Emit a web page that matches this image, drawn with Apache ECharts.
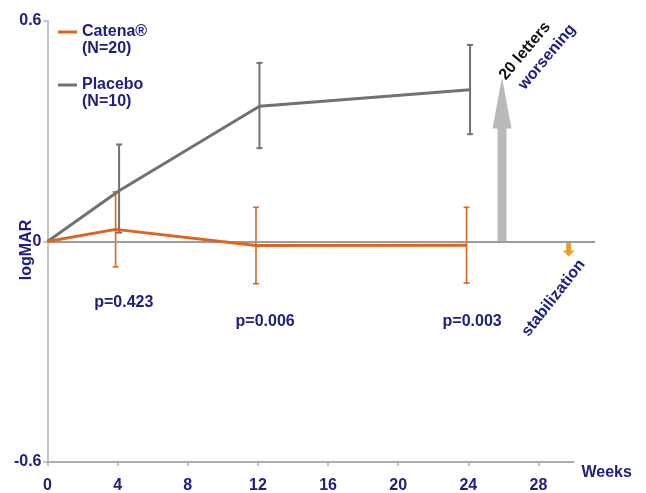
<!DOCTYPE html>
<html><head><meta charset="utf-8">
<script src="https://cdn.jsdelivr.net/npm/echarts@6/dist/echarts.min.js"></script>
<style>html,body{margin:0;padding:0;background:#fff}#c{width:646px;height:493px}</style>
</head><body><div id="c"></div>
<script>
// ---- data ----
const weekTicks = [0, 4, 8, 12, 16, 20, 24, 28];
const yTicks = [-0.6, 0, 0.6];
const seriesNames = ['Catena®', 'Placebo'];
const seriesN = ['(N=20)', '(N=10)'];
const catenaWeeks = [0, 3.88, 11.88, 23.88];
const catenaMean = [0, 0.033, -0.011, -0.010];
const catenaLow = [null, -0.069, -0.115, -0.113];
const catenaHigh = [null, 0.135, 0.093, 0.093];
const placeboWeeks = [0, 4.08, 12.08, 24.08];
const placeboMean = [0, 0.138, 0.368, 0.413];
const placeboLow = [null, 0.024, 0.254, 0.292];
const placeboHigh = [null, 0.264, 0.486, 0.535];
const pWeeks = [4.35, 12.4, 24.2];
const pLevels = [-0.165, -0.218, -0.218];
const pTexts = ['p=0.423', 'p=0.006', 'p=0.003'];
const arrowUp = [25.9, 0, 0.446];      // week, from, to
const arrowDown = [29.7, 0, -0.041];   // week, from, to

// ---- styles ----
const NAVY = '#1f2080';
const ORANGE = '#e0641e';
const GRAY = '#717171';
const FONT = '"Liberation Sans", Arial, sans-serif';

function pairs(xs, ys) { return xs.map((x, i) => [x, ys[i]]); }
function errData(xs, lo, hi) {
  const out = [];
  xs.forEach((x, i) => { if (lo[i] != null) out.push([x, lo[i], hi[i]]); });
  return out;
}
function errRender(cap, lw) {
  return function (params, api) {
    const x = api.value(0);
    const lo = api.coord([x, api.value(1)]);
    const hi = api.coord([x, api.value(2)]);
    const st = { stroke: api.visual('color'), lineWidth: lw, fill: null };
    return { type: 'group', children: [
      { type: 'line', shape: { x1: lo[0], y1: lo[1], x2: hi[0], y2: hi[1] }, style: st },
      { type: 'line', shape: { x1: lo[0] - cap / 2, y1: lo[1], x2: lo[0] + cap / 2, y2: lo[1] }, style: st },
      { type: 'line', shape: { x1: hi[0] - cap / 2, y1: hi[1], x2: hi[0] + cap / 2, y2: hi[1] }, style: st }
    ]};
  };
}
function arrowRender(shaftW, headW, headL) {
  return function (params, api) {
    const x = api.value(0);
    const p0 = api.coord([x, api.value(1)]);
    const p1 = api.coord([x, api.value(2)]);
    const dir = p1[1] < p0[1] ? -1 : 1;
    const hb = p1[1] - dir * headL;
    const cx = p0[0];
    return { type: 'polygon', shape: { points: [
      [cx - shaftW / 2, p0[1]], [cx - shaftW / 2, hb], [cx - headW / 2, hb], [cx, p1[1]],
      [cx + headW / 2, hb], [cx + shaftW / 2, hb], [cx + shaftW / 2, p0[1]]
    ] }, style: { fill: api.visual('color') } };
  };
}

const chart = echarts.init(document.getElementById('c'), null, { renderer: 'canvas' });
chart.setOption({
  animation: false,
  backgroundColor: '#fff',
  grid: [
    { left: 47.5, right: 51, top: 21, bottom: 31, containLabel: false, outerBoundsMode: 'none' },
    { left: 47.5, right: 72.5, top: 21, bottom: 31, containLabel: false, outerBoundsMode: 'none' }
  ],
  legend: {
    data: seriesNames,
    orient: 'vertical',
    left: 58, top: 6.5, padding: 0, itemGap: 2,
    icon: 'rect', itemWidth: 19, itemHeight: 3,
    formatter: name => '{s| }\n' + name + '\n' + seriesN[seriesNames.indexOf(name)],
    textStyle: { color: NAVY, fontFamily: FONT, fontWeight: 'bold', fontSize: 16, lineHeight: 17,
      rich: { s: { fontSize: 16, lineHeight: 17 } } }
  },
  xAxis: [
    { gridIndex: 0, type: 'value', min: 0, max: 31.2, show: false },
    { gridIndex: 1, type: 'value', min: 0, max: 30,
      axisLine: { show: true, onZero: false, lineStyle: { color: '#aeaeae', width: 2 } },
      axisTick: { show: true, length: 4, customValues: weekTicks, lineStyle: { color: '#aeaeae', width: 1.5 } },
      axisLabel: { customValues: weekTicks, margin: 16, color: NAVY, fontFamily: FONT, fontWeight: 'bold', fontSize: 16 },
      splitLine: { show: false },
      name: 'Weeks', nameLocation: 'end', nameGap: 8, nameMoveOverlap: false,
      nameTextStyle: { color: NAVY, fontFamily: FONT, fontWeight: 'bold', fontSize: 16, verticalAlign: 'top', padding: [3, 0, 0, 0] }
    }
  ],
  yAxis: [
    { gridIndex: 0, type: 'value', min: -0.6, max: 0.6, interval: 0.6,
      axisLine: { show: true, onZero: false, lineStyle: { color: '#c4c4c4', width: 2 } },
      axisTick: { show: true, length: 4, lineStyle: { color: '#b0b0b0', width: 1.5 } },
      axisLabel: { margin: 6, color: NAVY, fontFamily: FONT, fontWeight: 'bold', fontSize: 16,
        formatter: v => yTicks.some(t => Math.abs(t - v) < 1e-9) ? String(Math.round(v * 10) / 10) : '' },
      splitLine: { show: false },
      name: 'logMAR', nameLocation: 'middle', nameRotate: 90, nameGap: 12.5, nameMoveOverlap: false,
      nameTextStyle: { color: NAVY, fontFamily: FONT, fontWeight: 'bold', fontSize: 16, padding: [0, 17, 0, 0] }
    },
    { gridIndex: 1, type: 'value', min: -0.6, max: 0.6, show: false }
  ],
  graphic: [
    { type: 'text', x: 525, y: 51, rotation: 50 * Math.PI / 180, z: 100,
      style: { text: '20 letters', font: 'bold 16px ' + FONT, fill: '#111', align: 'center', verticalAlign: 'middle', textAlign: 'center', textVerticalAlign: 'middle' } },
    { type: 'text', x: 547, y: 57, rotation: 50 * Math.PI / 180, z: 100,
      style: { text: 'worsening', font: 'bold 16px ' + FONT, fill: NAVY, align: 'center', verticalAlign: 'middle', textAlign: 'center', textVerticalAlign: 'middle' } },
    { type: 'text', x: 553.5, y: 298, rotation: 52 * Math.PI / 180, z: 100,
      style: { text: 'stabilization', font: 'bold 16px ' + FONT, fill: NAVY, align: 'center', verticalAlign: 'middle', textAlign: 'center', textVerticalAlign: 'middle' } }
  ],
  series: [
    { name: 'zero', type: 'line', xAxisIndex: 0, yAxisIndex: 0, data: [], z: 1, silent: true,
      markLine: { silent: true, symbol: 'none', label: { show: false },
        lineStyle: { color: '#9c9c9c', width: 2, type: 'solid' }, data: [{ yAxis: 0 }] } },
    { name: 'arrowUp', type: 'custom', xAxisIndex: 0, yAxisIndex: 0, z: 2,
      renderItem: arrowRender(9, 19, 51), itemStyle: { color: '#b9b9b9' },
      encode: { x: 0, y: [1, 2] }, data: [arrowUp] },
    { name: 'arrowDown', type: 'custom', xAxisIndex: 0, yAxisIndex: 0, z: 2,
      renderItem: arrowRender(5, 12, 6), itemStyle: { color: '#e8a020' },
      encode: { x: 0, y: [1, 2] }, data: [arrowDown] },
    { name: 'placeboErr', type: 'custom', xAxisIndex: 0, yAxisIndex: 0, z: 3,
      renderItem: errRender(6, 2), itemStyle: { color: GRAY },
      encode: { x: 0, y: [1, 2] }, data: errData(placeboWeeks, placeboLow, placeboHigh) },
    { name: 'catenaErr', type: 'custom', xAxisIndex: 0, yAxisIndex: 0, z: 3,
      renderItem: errRender(6, 1.6), itemStyle: { color: ORANGE },
      encode: { x: 0, y: [1, 2] }, data: errData(catenaWeeks, catenaLow, catenaHigh) },
    { name: 'Placebo', type: 'line', xAxisIndex: 0, yAxisIndex: 0, z: 4,
      data: pairs(placeboWeeks, placeboMean), showSymbol: false, symbol: 'none',
      color: GRAY, lineStyle: { color: GRAY, width: 3 }, itemStyle: { color: GRAY } },
    { name: 'Catena®', type: 'line', xAxisIndex: 0, yAxisIndex: 0, z: 5,
      data: pairs(catenaWeeks, catenaMean), showSymbol: false, symbol: 'none',
      color: ORANGE, lineStyle: { color: ORANGE, width: 3 }, itemStyle: { color: ORANGE } },
    { name: 'pvals', type: 'scatter', xAxisIndex: 0, yAxisIndex: 0, z: 6, silent: true,
      symbolSize: 0, itemStyle: { opacity: 1 }, data: pWeeks.map((w, i) => [w, pLevels[i]]),
      label: { show: true, position: 'inside', formatter: p => pTexts[p.dataIndex],
        color: NAVY, opacity: 1, fontFamily: FONT, fontWeight: 'bold', fontSize: 16 } }
  ]
});
</script>
</body></html>
